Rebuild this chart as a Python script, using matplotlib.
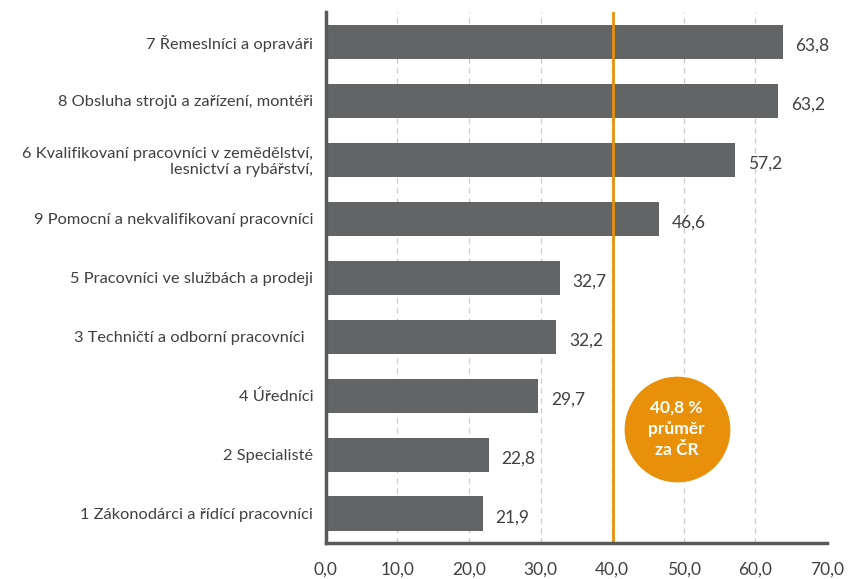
import matplotlib.pyplot as plt

# data (bottom to top)
categories = [
    '1 Zákonodárci a řídící pracovníci',
    '2 Specialisté',
    '4 Úředníci',
    '3 Techničtí a odborní pracovníci  ',
    '5 Pracovníci ve službách a prodeji',
    '9 Pomocní a nekvalifikovaní pracovníci',
    '6 Kvalifikovaní pracovníci v zemědělství,\nlesnictví a rybářství,',
    '8 Obsluha strojů a zařízení, montéři',
    '7 Řemeslníci a opraváři',
]
values = [21.9, 22.8, 29.7, 32.2, 32.7, 46.6, 57.2, 63.2, 63.8]
avg_value = 40.8
avg_label = '40,8 %\nprůměr\nza ČR'
xticks = [0, 10, 20, 30, 40, 50, 60, 70]

bar_col = '#636466'
orange = '#e8900a'
text_col = '#404040'

plt.rcParams['font.family'] = ['Lato', 'DejaVu Sans']

fig = plt.figure(figsize=(8.53, 5.79), dpi=100)
ax = fig.add_axes([0.382, 0.062, 0.5875, 0.917])

ypos = list(range(len(categories)))
ax.barh(ypos, values, height=0.58, color=bar_col, zorder=3)

for y, v in zip(ypos, values):
    ax.annotate(f'{v:.1f}'.replace('.', ','), (v, y), xytext=(9, -3),
                textcoords='offset points', ha='left', va='center',
                fontsize=12.5, color=text_col, zorder=4)

# average line + bubble
ax.axvline(40.15, color=orange, lw=2, zorder=4)
ax.scatter([49.0], [1.44], s=5800, color=orange, zorder=5, linewidths=0)
ax.text(49.0, 1.44, avg_label, ha='center', va='center', color='white',
        fontsize=12.5, fontweight='bold', linespacing=1.4, zorder=6)

ax.set_xlim(0, 70)
ax.set_ylim(-0.5, 8.5)
ax.set_xticks(xticks)
ax.set_xticklabels([f'{t:.1f}'.replace('.', ',') for t in xticks],
                   fontsize=12.5, color=text_col)
ax.set_yticks(ypos)
ax.set_yticklabels(categories, fontsize=11.8, color=text_col)
ax.tick_params(axis='both', length=0)
ax.tick_params(axis='x', pad=13)
ax.tick_params(axis='y', pad=9)

ax.grid(axis='x', linestyle=(0, (4, 4)), color='#c8c8c8', lw=0.9, zorder=0)
for s in ['top', 'right']:
    ax.spines[s].set_visible(False)
for s in ['left', 'bottom']:
    ax.spines[s].set_color('#595959')
    ax.spines[s].set_linewidth(2.5)
    ax.spines[s].set_zorder(6)

plt.savefig('out.png', dpi=100)
